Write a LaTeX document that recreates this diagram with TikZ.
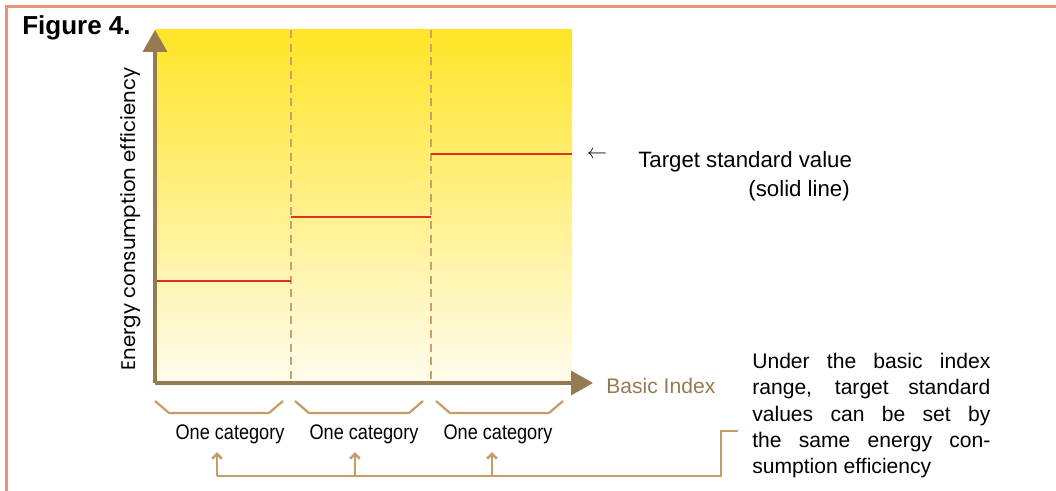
\documentclass[tikz,border=0pt]{standalone}
\usepackage{fontspec}
\setmainfont{Liberation Sans}
\newfontfamily\catfont{Liberation Sans}[FakeStretch=0.86]
\newfontfamily\axisfont{Poppins}
\usetikzlibrary{arrows.meta,positioning}

\definecolor{framepink}{RGB}{234,146,120}
\definecolor{axisbrown}{RGB}{150,122,80}
\definecolor{dashtan}{RGB}{200,160,108}
\definecolor{linktan}{RGB}{196,158,102}
\definecolor{targetred}{RGB}{222,50,38}
\definecolor{topyellow}{RGB}{255,229,38}
\definecolor{bottomyellow}{RGB}{255,252,238}

\begin{document}
\begin{tikzpicture}[x=0.025cm, y=0.025cm,
axis/.style={draw=axisbrown, line width=2.2pt, -{Triangle[length=15.5pt,width=17pt]}},
divider/.style={draw=dashtan, line width=2pt, dash pattern=on 5.7pt off 4pt},
target/.style={draw=targetred, line width=1.5pt},
brace/.style={draw=linktan, line width=1.6pt},
link/.style={draw=linktan, line width=1.8pt},
uparrow/.style={link, -{Straight Barb[length=3.5pt,width=7pt]}},
label/.style={font=\fontsize{15}{18.7}\selectfont, inner sep=0pt},
catlabel/.style={font=\catfont\fontsize{15}{18}\selectfont, inner sep=0pt}
]

\useasboundingbox (0,0) rectangle (1056,-491);

% frame, open to the right and bottom
\draw[framepink, line width=2.2pt] (6.5,-491) |- (1056,-6.5);

\node[anchor=base west, inner sep=0pt, font=\fontsize{18.5}{21}\selectfont\bfseries] (fig) at (22,-35) {Figure 4.};

% plot area
\coordinate (O) at (155,-383);
\coordinate (ytop) at (155,-30);
\coordinate (xend) at (593,-383);
\shade[top color=topyellow, bottom color=bottomyellow] (155,-30) rectangle (572,-383);

% category borders
\foreach \x in {291,431}
  \draw[divider] (\x,-30) -- (\x,-383);

% target values, one step per category
\draw[target] (155,-281) -- (291,-281);
\draw[target] (291,-217) -- (431,-217);
\draw[target] (431,-154) -- (572,-154);

\draw[axis] (O) -- (ytop);
\draw[axis] (O) -- (xend);

\node[anchor=base, rotate=90, inner sep=0pt, font=\axisfont\fontsize{14}{16}\selectfont] (ylabel) at (135,-219) {Energy consumption efficiency};
\node[label, anchor=base west, text=axisbrown] (xlabel) at (606,-393) {Basic Index};

\node[label, anchor=center] (tgtarrow) at (597,-155) {$\leftarrow$};
\node[label, anchor=base west, font=\fontsize{15.8}{19}\selectfont] (tgt) at (638,-168) {Target standard value};
\node[label, anchor=base east, font=\fontsize{15.8}{19}\selectfont] (tgtsub) at (850,-197) {(solid line)};

% brackets and labels under the x axis
\foreach \a/\b/\x [count=\i] in {155/283/230, 295/423/364, 436/563/498} {
  \draw[brace] (\a,-401) -- ++(14,-12) -- (\b-14,-413) -- (\b,-401);
  \node[catlabel, anchor=base] (cat\i) at (\x,-439) {One category};
}

\node[label, anchor=north west, text width=5.95cm, align=justify] (note) at (752,-353)
  {Under the basic index\linebreak range, target standard\linebreak values can be set by\linebreak the same energy con-\linebreak sumption efficiency};

% feedback from the note to each category
\coordinate (hook) at (738,-431);
\coordinate (corner) at (721,-476);
\foreach \x [count=\i] in {217,355,492} {
  \coordinate (tap\i) at (\x,-476);
  \draw[uparrow, shorten >=6pt] (tap\i) -- (tap\i |- cat\i.south);
}
\draw[link] (tap1) -- (corner) |- (hook);

\end{tikzpicture}
\end{document}
